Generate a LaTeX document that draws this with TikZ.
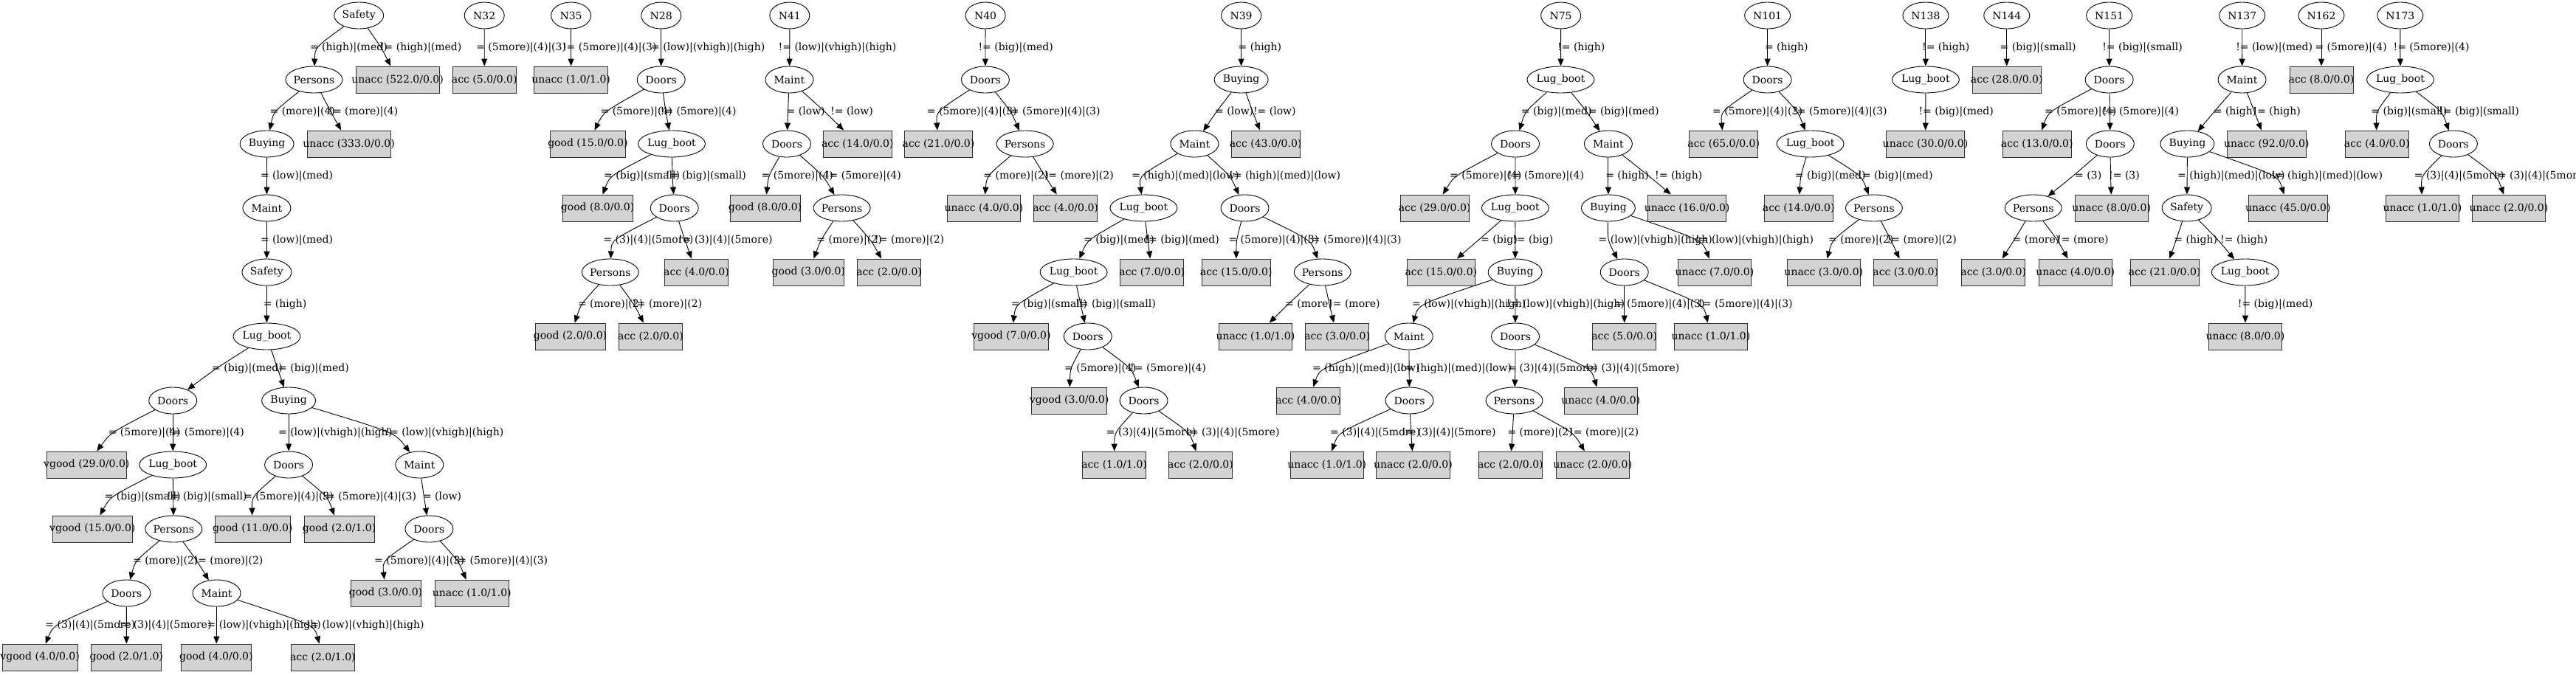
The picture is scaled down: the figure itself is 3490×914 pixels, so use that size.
\documentclass[tikz,border=0pt]{standalone}
\usepackage{fontspec}
\setmainfont{DejaVu Serif}
\newfontfamily\timesf{Liberation Serif}
\usetikzlibrary{shapes.geometric,arrows.meta}
\definecolor{lgray}{RGB}{211,211,211}
\tikzset{
  inner/.style={ellipse, draw=black, line width=0.9pt, minimum height=36pt, inner sep=0pt, font=\fontsize{14}{17}\selectfont},
  leafbox/.style={rectangle, draw=black!80, fill=lgray, line width=0.9pt, minimum height=36pt, inner xsep=9.4pt, inner ysep=0pt, font=\fontsize{14}{17}\selectfont},
  edgestyle/.style={draw=black, line width=0.9pt, -{Triangle[length=10pt,width=8pt]}},
  lab/.style={inner sep=0pt, font=\fontsize{14}{17}\selectfont}
}
\newcommand\inode[5]{\node[inner, minimum width=#5pt] (#1) at (#2,{-21-87*#3}) {\makebox[0pt]{#4}};}
\newcommand\leaf[4]{\node[leafbox] (#1) at (#2,{-21-87*#3}) {\setbox0\hbox{\timesf\fontsize{13.4}{16}\selectfont #4}\hbox to \wd0{\hss #4\hss}};}
\newcommand\edge[6]{\draw[edgestyle] (#1) .. controls (#3,{-64.5-87*#4}) and (#3,{-64.5-87*#4}) .. (#2);
  \node[lab, anchor=west] at (#5,{-64.5-87*#4}) {#6};}
\begin{document}
\begin{tikzpicture}[x=1pt,y=1pt]
\fill[white] (0,0) rectangle (3490,-914);
\useasboundingbox (0,0) rectangle (3490,-914);
% ---------- Tree 1
\inode{a0}{486.2}{0}{Safety}{67}
\inode{a1}{425.5}{1}{Persons}{77}
\leaf{a2}{538.6}{1}{unacc (522.0/0.0)}
\inode{a3}{361.6}{2}{Buying}{73}
\leaf{a4}{472.6}{2}{unacc (333.0/0.0)}
\inode{a5}{361.4}{3}{Maint}{65}
\inode{a6}{361.4}{4}{Safety}{67}
\inode{a7}{361.4}{5}{Lug\_boot}{91}
\inode{a8}{234.2}{6}{Doors}{65}
\inode{a9}{391.1}{6}{Buying}{73}
\leaf{a10}{117.3}{7}{vgood (29.0/0.0)}
\inode{a11}{234.2}{7}{Lug\_boot}{91}
\inode{a12}{391.1}{7}{Doors}{65}
\inode{a13}{568.3}{7}{Maint}{65}
\leaf{a14}{125.3}{8}{vgood (15.0/0.0)}
\inode{a15}{235.3}{8}{Persons}{77}
\leaf{a16}{342.3}{8}{good (11.0/0.0)}
\leaf{a17}{459.6}{8}{good (2.0/1.0)}
\inode{a18}{581.4}{8}{Doors}{65}
\inode{a19}{171.4}{9}{Doors}{65}
\inode{a20}{293.5}{9}{Maint}{65}
\leaf{a21}{522.5}{9}{good (3.0/0.0)}
\leaf{a22}{639.3}{9}{unacc (1.0/1.0)}
\leaf{a23}{54.1}{10}{vgood (4.0/0.0)}
\leaf{a24}{171.2}{10}{good (2.0/1.0)}
\leaf{a25}{292.9}{10}{good (4.0/0.0)}
\leaf{a26}{437.4}{10}{acc (2.0/1.0)}
\edge{a0}{a1}{426.7}{0}{419.8}{= (high)|(med)}
\edge{a0}{a2}{516.6}{0}{514.8}{!= (high)|(med)}
\edge{a1}{a3}{370.5}{1}{365.4}{= (more)|(4)}
\edge{a1}{a4}{448.1}{1}{445.2}{!= (more)|(4)}
\edge{a3}{a5}{361.5}{2}{352.8}{= (low)|(med)}
\edge{a5}{a6}{361.4}{3}{352.8}{= (low)|(med)}
\edge{a6}{a7}{361.4}{4}{356.6}{= (high)}
\edge{a7}{a8}{292.5}{5}{287}{= (big)|(med)}
\edge{a7}{a9}{376}{5}{371.4}{!= (big)|(med)}
\edge{a8}{a10}{150}{6}{146.6}{= (5more)|(4)}
\edge{a8}{a11}{234.2}{6}{227.8}{!= (5more)|(4)}
\edge{a9}{a12}{391.1}{6}{376.9}{= (low)|(vhigh)|(high)}
\edge{a9}{a13}{535}{6}{522.4}{!= (low)|(vhigh)|(high)}
\edge{a11}{a14}{149}{7}{141.6}{= (big)|(small)}
\edge{a11}{a15}{234.6}{7}{225.9}{!= (big)|(small)}
\edge{a12}{a16}{341}{7}{329.9}{= (5more)|(4)|(3)}
\edge{a12}{a17}{444}{7}{436.4}{!= (5more)|(4)|(3)}
\edge{a13}{a18}{574.4}{7}{572.8}{= (low)}
\edge{a15}{a19}{183}{8}{179.9}{= (more)|(2)}
\edge{a15}{a20}{267}{8}{262.3}{!= (more)|(2)}
\edge{a18}{a21}{518}{8}{507}{= (5more)|(4)|(3)}
\edge{a18}{a22}{621}{8}{614.6}{!= (5more)|(4)|(3)}
\edge{a19}{a23}{72}{9}{61.2}{= (3)|(4)|(5more)}
\edge{a19}{a24}{171.4}{9}{158.9}{!= (3)|(4)|(5more)}
\edge{a20}{a25}{293.5}{9}{280.5}{= (low)|(vhigh)|(high)}
\edge{a20}{a26}{426}{9}{414.6}{!= (low)|(vhigh)|(high)}
% ---------- N32, N35
\inode{b0}{656.2}{0}{N32}{54}
\leaf{b1}{656.3}{1}{acc (5.0/0.0)}
\edge{b0}{b1}{656.2}{0}{645.1}{= (5more)|(4)|(3)}
\inode{c0}{773.6}{0}{N35}{54}
\leaf{c1}{773.6}{1}{unacc (1.0/1.0)}
\edge{c0}{c1}{773.6}{0}{761.9}{!= (5more)|(4)|(3)}
% ---------- N28
\inode{d0}{895.7}{0}{N28}{54}
\inode{d1}{895.7}{1}{Doors}{65}
\leaf{d2}{796.4}{2}{good (15.0/0.0)}
\inode{d3}{910}{2}{Lug\_boot}{91}
\leaf{d4}{809.6}{3}{good (8.0/0.0)}
\inode{d5}{913.7}{3}{Doors}{65}
\inode{d6}{826.8}{4}{Persons}{77}
\leaf{d7}{943.5}{4}{acc (4.0/0.0)}
\leaf{d8}{772.5}{5}{good (2.0/0.0)}
\leaf{d9}{881.5}{5}{acc (2.0/0.0)}
\edge{d0}{d1}{895.7}{0}{882}{= (low)|(vhigh)|(high)}
\edge{d1}{d2}{818}{1}{813.4}{= (5more)|(4)}
\edge{d1}{d3}{902}{1}{894.5}{!= (5more)|(4)}
\edge{d3}{d4}{826}{2}{818}{= (big)|(small)}
\edge{d3}{d5}{911}{2}{902}{!= (big)|(small)}
\edge{d5}{d6}{828.4}{3}{817.3}{= (3)|(4)|(5more)}
\edge{d5}{d7}{928}{3}{919}{!= (3)|(4)|(5more)}
\edge{d6}{d8}{787}{4}{782.8}{= (more)|(2)}
\edge{d6}{d9}{859}{4}{857}{!= (more)|(2)}
% ---------- N41
\inode{e0}{1069.8}{0}{N41}{54}
\inode{e1}{1069.4}{1}{Maint}{65}
\inode{e2}{1066}{2}{Doors}{65}
\leaf{e3}{1161.8}{2}{acc (14.0/0.0)}
\leaf{e4}{1036.5}{3}{good (8.0/0.0)}
\inode{e5}{1140.6}{3}{Persons}{77}
\leaf{e6}{1095.4}{4}{good (3.0/0.0)}
\leaf{e7}{1204.6}{4}{acc (2.0/0.0)}
\edge{e0}{e1}{1069.8}{0}{1054.5}{!= (low)|(vhigh)|(high)}
\edge{e1}{e2}{1067.5}{1}{1065.5}{= (low)}
\edge{e1}{e3}{1117.6}{1}{1125}{!= (low)}
\edge{e2}{e4}{1041}{2}{1031.5}{= (5more)|(4)}
\edge{e2}{e5}{1115.7}{2}{1117.8}{!= (5more)|(4)}
\edge{e5}{e6}{1111.9}{3}{1106.2}{= (more)|(2)}
\edge{e5}{e7}{1180}{3}{1185}{!= (more)|(2)}
% ---------- N40
\inode{f0}{1335.1}{0}{N40}{54}
\inode{f1}{1334.9}{1}{Doors}{65}
\leaf{f2}{1271.5}{2}{acc (21.0/0.0)}
\inode{f3}{1388.6}{2}{Persons}{77}
\leaf{f4}{1333}{3}{unacc (4.0/0.0)}
\leaf{f5}{1443.6}{3}{acc (4.0/0.0)}
\edge{f0}{f1}{1335}{0}{1325.3}{!= (big)|(med)}
\edge{f1}{f2}{1268}{1}{1255.7}{= (5more)|(4)|(3)}
\edge{f1}{f3}{1370}{1}{1363}{!= (5more)|(4)|(3)}
\edge{f3}{f4}{1336.8}{2}{1332.2}{= (more)|(2)}
\edge{f3}{f5}{1415.6}{2}{1414.6}{!= (more)|(2)}
% ---------- N39
\inode{g0}{1681.6}{0}{N39}{54}
\inode{g1}{1681.6}{1}{Buying}{73}
\inode{g2}{1618.4}{2}{Maint}{65}
\leaf{g3}{1714.6}{2}{acc (43.0/0.0)}
\inode{g4}{1549.4}{3}{Lug\_boot}{91}
\inode{g5}{1686.5}{3}{Doors}{65}
\inode{g6}{1454.6}{4}{Lug\_boot}{91}
\leaf{g7}{1560.8}{4}{acc (7.0/0.0)}
\leaf{g8}{1674.7}{4}{acc (15.0/0.0)}
\inode{g9}{1791.7}{4}{Persons}{77}
\leaf{g10}{1369.9}{5}{vgood (7.0/0.0)}
\inode{g11}{1473.8}{5}{Doors}{65}
\leaf{g12}{1700.9}{5}{unacc (1.0/1.0)}
\leaf{g13}{1811.7}{5}{acc (3.0/0.0)}
\leaf{g14}{1448.7}{6}{vgood (3.0/0.0)}
\inode{g15}{1549.5}{6}{Doors}{65}
\leaf{g16}{1509.6}{7}{acc (1.0/1.0)}
\leaf{g17}{1626.5}{7}{acc (2.0/0.0)}
\edge{g0}{g1}{1681.6}{0}{1677.4}{= (high)}
\edge{g1}{g2}{1647.9}{1}{1646}{= (low)}
\edge{g1}{g3}{1697}{1}{1697.8}{!= (low)}
\edge{g2}{g4}{1542.7}{2}{1533.1}{= (high)|(med)|(low)}
\edge{g2}{g5}{1667}{2}{1665}{!= (high)|(med)|(low)}
\edge{g4}{g6}{1473}{3}{1468}{= (big)|(med)}
\edge{g4}{g7}{1555}{3}{1550.4}{!= (big)|(med)}
\edge{g5}{g8}{1675}{3}{1664.3}{= (5more)|(4)|(3)}
\edge{g5}{g9}{1776}{3}{1771}{!= (5more)|(4)|(3)}
\edge{g6}{g10}{1376}{4}{1369.7}{= (big)|(small)}
\edge{g6}{g11}{1464}{4}{1457}{!= (big)|(small)}
\edge{g9}{g12}{1745}{4}{1741}{= (more)}
\edge{g9}{g13}{1801}{4}{1800}{!= (more)}
\edge{g11}{g14}{1450}{5}{1442}{= (5more)|(4)}
\edge{g11}{g15}{1533}{5}{1531}{!= (5more)|(4)}
\edge{g15}{g16}{1509.8}{6}{1498.7}{= (3)|(4)|(5more)}
\edge{g15}{g17}{1612}{6}{1606}{!= (3)|(4)|(5more)}
% ---------- N75
\inode{h0}{2114.6}{0}{N75}{54}
\inode{h1}{2114.4}{1}{Lug\_boot}{91}
\inode{h2}{2053}{2}{Doors}{65}
\inode{h3}{2178.9}{2}{Maint}{65}
\leaf{h4}{1943.6}{3}{acc (29.0/0.0)}
\inode{h5}{2052.8}{3}{Lug\_boot}{91}
\inode{h6}{2178.9}{3}{Buying}{73}
\leaf{h7}{2285.6}{3}{unacc (16.0/0.0)}
\leaf{h8}{1952.4}{4}{acc (15.0/0.0)}
\inode{h9}{2052.6}{4}{Buying}{73}
\inode{h10}{2200.7}{4}{Doors}{65}
\leaf{h11}{2323}{4}{unacc (7.0/0.0)}
\inode{h12}{1908.8}{5}{Maint}{65}
\inode{h13}{2053}{5}{Doors}{65}
\leaf{h14}{2200.7}{5}{acc (5.0/0.0)}
\leaf{h15}{2318}{5}{unacc (1.0/1.0)}
\leaf{h16}{1772.6}{6}{acc (4.0/0.0)}
\inode{h17}{1909.5}{6}{Doors}{65}
\inode{h18}{2051.5}{6}{Persons}{77}
\leaf{h19}{2168.8}{6}{unacc (4.0/0.0)}
\leaf{h20}{1797.8}{7}{unacc (1.0/1.0)}
\leaf{h21}{1914.5}{7}{unacc (2.0/0.0)}
\leaf{h22}{2046.3}{7}{acc (2.0/0.0)}
\leaf{h23}{2157.7}{7}{unacc (2.0/0.0)}
\edge{h0}{h1}{2114.6}{0}{2110}{!= (high)}
\edge{h1}{h2}{2066}{1}{2060.7}{= (big)|(med)}
\edge{h1}{h3}{2150}{1}{2146}{!= (big)|(med)}
\edge{h2}{h4}{1970}{2}{1963.9}{= (5more)|(4)}
\edge{h2}{h5}{2053}{2}{2043}{!= (5more)|(4)}
\edge{h3}{h6}{2178.9}{2}{2175.1}{= (high)}
\edge{h3}{h7}{2234}{2}{2242}{!= (high)}
\edge{h5}{h8}{2003}{3}{2006}{= (big)}
\edge{h5}{h9}{2053}{3}{2049}{!= (big)}
\edge{h6}{h10}{2178}{3}{2165.5}{= (low)|(vhigh)|(high)}
\edge{h6}{h11}{2306}{3}{2297}{!= (low)|(vhigh)|(high)}
\edge{h9}{h12}{1922}{4}{1913}{= (low)|(vhigh)|(high)}
\edge{h9}{h13}{2053}{4}{2041}{!= (low)|(vhigh)|(high)}
\edge{h10}{h14}{2200.7}{4}{2187.7}{= (5more)|(4)|(3)}
\edge{h10}{h15}{2308}{4}{2301}{!= (5more)|(4)|(3)}
\edge{h12}{h16}{1788}{5}{1778}{= (high)|(med)|(low)}
\edge{h12}{h17}{1909.1}{5}{1897}{!= (high)|(med)|(low)}
\edge{h13}{h18}{2053}{5}{2042.3}{= (3)|(4)|(5more)}
\edge{h13}{h19}{2156}{5}{2147.7}{!= (3)|(4)|(5more)}
\edge{h17}{h20}{1813}{6}{1802}{= (3)|(4)|(5more)}
\edge{h17}{h21}{1911.8}{6}{1899}{!= (3)|(4)|(5more)}
\edge{h18}{h22}{2049.2}{6}{2042.3}{= (more)|(2)}
\edge{h18}{h23}{2132}{6}{2126}{!= (more)|(2)}
% ---------- N101
\inode{i0}{2394.6}{0}{N101}{62}
\inode{i1}{2394.6}{1}{Doors}{65}
\leaf{i2}{2335.2}{2}{acc (65.0/0.0)}
\inode{i3}{2452.6}{2}{Lug\_boot}{91}
\leaf{i4}{2436.7}{3}{acc (14.0/0.0)}
\inode{i5}{2538.9}{3}{Persons}{77}
\leaf{i6}{2470.8}{4}{unacc (3.0/0.0)}
\leaf{i7}{2581.7}{4}{acc (3.0/0.0)}
\edge{i0}{i1}{2394.6}{0}{2390.8}{= (high)}
\edge{i1}{i2}{2331}{1}{2320}{= (5more)|(4)|(3)}
\edge{i1}{i3}{2436}{1}{2429}{!= (5more)|(4)|(3)}
\edge{i3}{i4}{2439.4}{2}{2431.7}{= (big)|(med)}
\edge{i3}{i5}{2522}{2}{2517}{!= (big)|(med)}
\edge{i5}{i6}{2482}{3}{2476.9}{= (more)|(2)}
\edge{i5}{i7}{2562}{3}{2556.6}{!= (more)|(2)}
% ---------- N138, N144
\inode{j0}{2608.9}{0}{N138}{62}
\inode{j1}{2608.9}{1}{Lug\_boot}{91}
\leaf{j2}{2608.5}{2}{unacc (30.0/0.0)}
\edge{j0}{j1}{2608.9}{0}{2603.9}{!= (high)}
\edge{j1}{j2}{2608.9}{1}{2599.3}{!= (big)|(med)}
\inode{k0}{2718.7}{0}{N144}{62}
\leaf{k1}{2718.7}{1}{acc (28.0/0.0)}
\edge{k0}{k1}{2718.7}{0}{2709.5}{= (big)|(small)}
% ---------- N151
\inode{l0}{2857.6}{0}{N151}{62}
\inode{l1}{2857.6}{1}{Doors}{65}
\leaf{l2}{2759.7}{2}{acc (13.0/0.0)}
\inode{l3}{2858.8}{2}{Doors}{65}
\inode{l4}{2754.7}{3}{Persons}{77}
\leaf{l5}{2860.7}{3}{unacc (8.0/0.0)}
\leaf{l6}{2700.7}{4}{acc (3.0/0.0)}
\leaf{l7}{2811.7}{4}{unacc (4.0/0.0)}
\edge{l0}{l1}{2857.6}{0}{2848.1}{!= (big)|(small)}
\edge{l1}{l2}{2775}{1}{2770}{= (5more)|(4)}
\edge{l1}{l3}{2858.4}{1}{2849}{!= (5more)|(4)}
\edge{l3}{l4}{2808.7}{2}{2811}{= (3)}
\edge{l3}{l5}{2859.5}{2}{2857}{!= (3)}
\edge{l4}{l6}{2728.7}{3}{2726.4}{= (more)}
\edge{l4}{l7}{2787.6}{3}{2787}{!= (more)}
% ---------- N137
\inode{m0}{3037.7}{0}{N137}{62}
\inode{m1}{3037.5}{1}{Maint}{65}
\inode{m2}{2963.4}{2}{Buying}{73}
\leaf{m3}{3070.8}{2}{unacc (92.0/0.0)}
\inode{m4}{2962.6}{3}{Safety}{67}
\leaf{m5}{3099.8}{3}{unacc (45.0/0.0)}
\leaf{m6}{2932.6}{4}{acc (21.0/0.0)}
\inode{m7}{3041.7}{4}{Lug\_boot}{91}
\leaf{m8}{3042}{5}{unacc (8.0/0.0)}
\edge{m0}{m1}{3037.7}{0}{3029.1}{!= (low)|(med)}
\edge{m1}{m2}{2999.7}{1}{2998.6}{= (high)}
\edge{m1}{m3}{3054.3}{1}{3052.4}{!= (high)}
\edge{m2}{m4}{2963.2}{2}{2950}{= (high)|(med)|(low)}
\edge{m2}{m5}{3087}{2}{3077}{!= (high)|(med)|(low)}
\edge{m4}{m6}{2948.2}{3}{2945.2}{= (high)}
\edge{m4}{m7}{3005.4}{3}{3008}{!= (high)}
\edge{m7}{m8}{3041.9}{4}{3031.7}{!= (big)|(med)}
% ---------- N162, N173
\inode{n0}{3145}{0}{N162}{62}
\leaf{n1}{3145}{1}{acc (8.0/0.0)}
\edge{n0}{n1}{3145}{0}{3136.3}{= (5more)|(4)}
\inode{o0}{3251.8}{0}{N173}{62}
\inode{o1}{3252}{1}{Lug\_boot}{91}
\leaf{o2}{3220.2}{2}{acc (4.0/0.0)}
\inode{o3}{3323.9}{2}{Doors}{65}
\leaf{o4}{3281.9}{3}{unacc (1.0/1.0)}
\leaf{o5}{3398.9}{3}{unacc (2.0/0.0)}
\edge{o0}{o1}{3251.8}{0}{3242.4}{!= (5more)|(4)}
\edge{o1}{o2}{3219.1}{1}{3212.3}{= (big)|(small)}
\edge{o1}{o3}{3309}{1}{3304}{!= (big)|(small)}
\edge{o3}{o4}{3280}{2}{3270.6}{= (3)|(4)|(5more)}
\edge{o3}{o5}{3383}{2}{3378}{!= (3)|(4)|(5more)}
\end{tikzpicture}
\end{document}
